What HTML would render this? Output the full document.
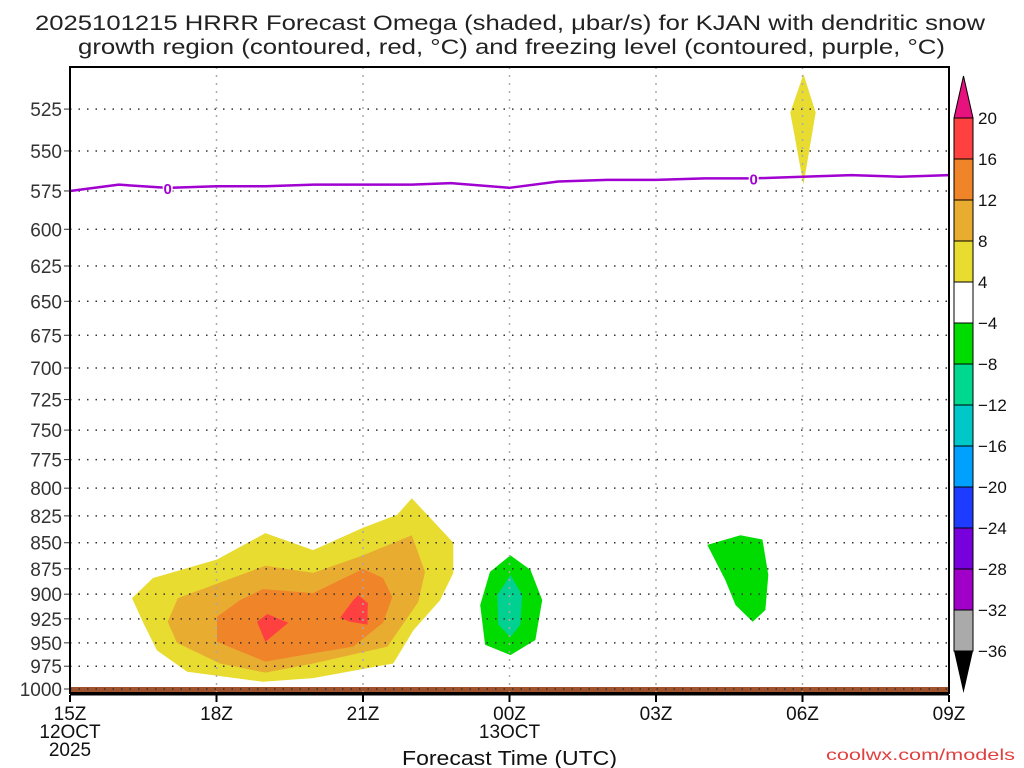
<!DOCTYPE html>
<html><head><meta charset="utf-8"><style>
body{margin:0;background:#fff;width:1024px;height:768px;overflow:hidden}
svg{display:block;font-family:"Liberation Sans","DejaVu Sans",sans-serif}
</style></head><body>
<svg id="chart" width="1024" height="768" viewBox="0 0 1024 768">
<text x="35" y="30" font-size="21" textLength="950" lengthAdjust="spacingAndGlyphs" fill="#222">2025101215 HRRR Forecast Omega (shaded, μbar/s) for KJAN with dendritic snow</text>
<text x="78" y="54" font-size="21" textLength="867" lengthAdjust="spacingAndGlyphs" fill="#222">growth region (contoured, red, °C) and freezing level (contoured, purple, °C)</text>
<g id="fills"></g><g id="grid"></g><g id="lines"></g><g id="axes"></g><g id="cbar"></g>
<text x="402" y="765" font-size="20" textLength="215" lengthAdjust="spacingAndGlyphs" fill="#111">Forecast Time (UTC)</text>
<text x="826" y="760" font-size="16" textLength="189" lengthAdjust="spacingAndGlyphs" fill="#e04040">coolwx.com/models</text>
</svg>
<script>
const yTicks=[525,550,575,600,625,650,675,700,725,750,775,800,825,850,875,900,925,950,975,1000];
const xTickHours=[15,18,21,24,27,30,33];
const xTickLabels=["15Z","18Z","21Z","00Z","03Z","06Z","09Z"];
const freezeHours=[15,16,17,18,19,20,21,22,22.8,24,25,26,27,28,29,30,31,32,33];
const freezeP=[575,571,573,572,572,571,571,571,570,573,569,568,568,567,567,566,565,566,565];
const yellowMain=[[16.27,904],[16.7,884],[18.01,866],[19.0,841],[19.98,857],[21.0,836],[21.7,824],[22.0,809],[22.85,850],[22.85,879],[22.58,906],[22.03,937],[21.62,972],[19.98,988],[18.95,992],[17.4,981],[16.78,958],[16.5,929]];
const goldMain=[[17.0,928],[17.21,904],[19.0,872],[19.98,879],[21.0,862],[22.0,843],[22.27,878],[22.13,908],[21.5,954],[19.98,972],[19.0,982],[18.07,972],[17.19,950]];
const orangeMain=[[18.01,923],[18.48,906],[18.95,895],[19.98,899],[21.0,875],[21.41,884],[21.6,903],[21.41,929],[20.8,954],[19.98,961],[19.0,970],[18.01,949]];
const red1=[[18.83,928],[19.04,920],[19.47,929],[19.0,949]];
const red2=[[20.9,901],[21.1,909],[21.09,931],[20.74,928],[20.53,924],[20.8,906]];
const green1=[[24.02,862],[24.43,876],[24.67,906],[24.53,947],[24.02,963],[23.5,952],[23.4,911],[23.6,878]];
const teal1=[[24.02,881],[24.26,901],[24.22,931],[24.02,944],[23.77,931],[23.75,901]];
const green2=[[28.05,852],[28.73,843],[29.18,847],[29.3,881],[29.24,916],[28.98,928],[28.63,911],[28.42,886],[28.16,862]];
const yellowSpike=[[30.02,505],[30.27,527],[30.02,571],[29.75,527]];
const cbarLabels=["20","16","12","8","4","−4","−8","−12","−16","−20","−24","−28","−32","−36"];
const cbarColors=["#ff4040","#f08428","#e8ac30","#e8dc30","#ffffff","#00dc00","#00d890","#00c8c8","#00a0ff","#1e3cff","#7800dc","#a000c8","#aaaaaa"];

const X0=70,X1=949,H0=15,H1=33,YB=689,K=900;
const xs=h=>X0+(h-H0)*(X1-X0)/(H1-H0);
const ys=p=>YB-K*Math.log(1000/p);
const NS="http://www.w3.org/2000/svg";
function mk(tag,parent,attrs){const e=document.createElementNS(NS,tag);for(const k in attrs)e.setAttribute(k,attrs[k]);document.getElementById(parent).appendChild(e);return e;}
function poly(arr,fill,name){const e=mk("polygon","fills",{points:arr.map(d=>xs(d[0])+","+ys(d[1])).join(" "),fill:fill});

}
poly(yellowMain,"#e8dc30","omega-4-8-region");
poly(goldMain,"#e8ac30","omega-8-12-region");
poly(orangeMain,"#f08428","omega-12-16-region");
poly(red1,"#ff4040","omega-16-20-region-a");
poly(red2,"#ff4040","omega-16-20-region-b");
poly(green1,"#00dc00","omega-neg-green-00z");
poly(teal1,"#00d090","omega-neg-teal-00z");
poly(green2,"#00dc00","omega-neg-green-05z");
poly(yellowSpike,"#e8dc30","omega-spike-06z");
const g=mk("rect","fills",{x:X0,y:687,width:X1-X0,height:6,fill:"#a0522d"});


yTicks.forEach(p=>{const y=ys(p);
const l=mk("line","grid",{x1:X0,x2:X1,y1:y,y2:y,stroke:"#333","stroke-width":1.5,"stroke-dasharray":"1.5 7"});


const t=mk("text","axes",{x:62,y:y+7,"font-size":19,"text-anchor":"end",fill:"#333"});t.textContent=p;


mk("line","axes",{x1:64,x2:X0,y1:y,y2:y,stroke:"#333","stroke-width":1});});
xTickHours.forEach((h,i)=>{const x=xs(h);
if(i>0&&i<xTickHours.length-1){const l=mk("line","grid",{x1:x,x2:x,y1:67,y2:693,stroke:"#aaa","stroke-width":1.5,"stroke-dasharray":"2 6"});

}
mk("line","axes",{x1:x,x2:x,y1:695,y2:702,stroke:"#000","stroke-width":2});
const t=mk("text","axes",{x:x,y:720,"font-size":19,"text-anchor":"middle",fill:"#111"});t.textContent=xTickLabels[i];

});
[["12OCT",15,738],["2025",15,756],["13OCT",24,738]].forEach(d=>{const t=mk("text","axes",{x:xs(d[1]),y:d[2],"font-size":19,"text-anchor":"middle",fill:"#111"});t.textContent=d[0];

});
const fl=mk("polyline","lines",{points:freezeHours.map((h,i)=>xs(h)+","+ys(freezeP[i])).join(" "),fill:"none",stroke:"#a000d0","stroke-width":2.5,"stroke-linejoin":"round"});


[[17,573],[29,567]].forEach(d=>{mk("rect","lines",{x:xs(d[0])-5,y:ys(d[1])-8,width:10,height:15,fill:"#fff"});
const t=mk("text","lines",{x:xs(d[0]),y:ys(d[1])+6,"font-size":15,"font-weight":"bold","text-anchor":"middle",fill:"#a000d0"});t.textContent="0";

});
const fr=mk("rect","axes",{x:X0,y:67,width:X1-X0,height:626,fill:"none",stroke:"#000","stroke-width":2});


mk("line","axes",{x1:X0,x2:X1,y1:694,y2:694,stroke:"#000","stroke-width":3});
const CX=954,CW=19,CT=118,CS=41;
const up=mk("polygon","cbar",{points:`${CX},${CT} ${CX+CW},${CT} ${CX+CW/2},${CT-42}`,fill:"#e8127f",stroke:"#000","stroke-width":1});


cbarColors.forEach((c,i)=>{const r=mk("rect","cbar",{x:CX,y:CT+i*CS,width:CW,height:CS,fill:c,stroke:"#000","stroke-width":1});

});
const yb=CT+cbarColors.length*CS;
const dn=mk("polygon","cbar",{points:`${CX},${yb} ${CX+CW},${yb} ${CX+CW/2},${yb+42}`,fill:"#000"});


cbarLabels.forEach((s,i)=>{const t=mk("text","cbar",{x:978,y:CT+i*CS+6,"font-size":17,fill:"#111"});t.textContent=s;

});
</script>
</body></html>
